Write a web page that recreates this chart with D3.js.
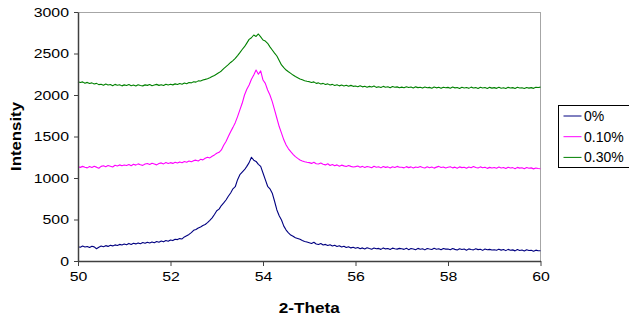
<!DOCTYPE html>
<html>
<head>
<meta charset="utf-8">
<script src="https://cdn.jsdelivr.net/npm/d3@7"></script>
<style>
  body { margin: 0; background: #fff; }
  svg { display: block; font-family: "Liberation Sans", Arial, sans-serif; }
</style>
</head>
<body>
<div id="chart"></div>
<script>
// scan grid: 50.00 .. 60.00 in 0.05 steps
const thetaStart = 50;
const thetaStep = 0.05;

const seriesNames = ['0%', '0.10%', '0.30%'];
const seriesColors = ['#000080', '#ff00ff', '#008000'];

const yTicks = [0, 500, 1000, 1500, 2000, 2500, 3000];
const xTicks = [50, 52, 54, 56, 58, 60];

const intensity0 = [
  172, 165, 180, 168, 175, 162, 178, 170, 148, 166, 180, 172, 185, 176, 190, 182, 194, 186, 200, 192,
  205, 196, 212, 200, 214, 206, 218, 209, 222, 213, 226, 218, 230, 221, 234, 226, 240, 231, 246, 238,
  253, 246, 262, 258, 270, 266, 290, 305, 320, 342, 370, 380, 398, 410, 428, 440, 462, 490, 520, 560,
  606, 625, 668, 700, 735, 780, 820, 870, 895, 980, 1040, 1070, 1100, 1140, 1185, 1250, 1215, 1200, 1165, 1140,
  1060, 980, 900, 870, 817, 720, 615, 545, 494, 420, 373, 340, 313, 298, 280, 272, 261, 248, 236, 228,
  220, 212, 226, 205, 198, 210, 193, 200, 186, 196, 181, 190, 175, 184, 168, 178, 162, 172, 158, 166,
  153, 162, 148, 158, 145, 160, 150, 142, 156, 147, 152, 140, 158, 146, 150, 138, 155, 148, 143, 152,
  148, 140, 154, 137, 150, 145, 136, 152, 142, 148, 134, 150, 144, 139, 153, 141, 147, 135, 150, 143,
  145, 136, 150, 140, 133, 147, 138, 144, 130, 146, 139, 134, 148, 137, 142, 128, 144, 135, 140, 132,
  136, 129, 143, 131, 138, 125, 140, 130, 134, 122, 138, 127, 132, 120, 135, 126, 129, 118, 131, 124,
  124
];

const intensity010 = [
  1135, 1128, 1140, 1130, 1122, 1138, 1127, 1142, 1131, 1118, 1140, 1148, 1135, 1150, 1141, 1132, 1153, 1144, 1158, 1147,
  1157, 1150, 1162, 1148, 1165, 1155, 1170, 1160, 1152, 1168, 1175, 1163, 1178, 1168, 1158, 1174, 1182, 1170, 1186, 1175,
  1185, 1176, 1190, 1180, 1194, 1184, 1198, 1190, 1204, 1195, 1209, 1215, 1205, 1225, 1218, 1238, 1250, 1242, 1262, 1278,
  1298, 1310, 1338, 1395, 1440, 1500, 1558, 1610, 1667, 1740, 1820, 1900, 2000, 2070, 2120, 2190, 2240, 2300, 2250, 2290,
  2180, 2140, 2060, 2000, 1920, 1820, 1720, 1620, 1540, 1460, 1398, 1352, 1317, 1285, 1257, 1236, 1217, 1205, 1196, 1190,
  1185, 1176, 1190, 1172, 1169, 1180, 1165, 1158, 1172, 1150, 1162, 1148, 1158, 1142, 1155, 1146, 1138, 1150, 1140, 1132,
  1137, 1145, 1130, 1140, 1126, 1138, 1133, 1124, 1141, 1130, 1135, 1122, 1139, 1128, 1134, 1120, 1136, 1127, 1140, 1129,
  1130, 1122, 1137, 1125, 1134, 1120, 1132, 1126, 1138, 1127, 1121, 1135, 1124, 1133, 1119, 1131, 1140, 1126, 1132, 1121,
  1129, 1136, 1122, 1131, 1118, 1134, 1125, 1130, 1117, 1133, 1124, 1139, 1126, 1120, 1134, 1123, 1130, 1116, 1128, 1121,
  1127, 1118, 1132, 1120, 1126, 1114, 1130, 1121, 1125, 1112, 1128, 1119, 1124, 1111, 1126, 1117, 1122, 1110, 1120, 1114,
  1112
];

const intensity030 = [
  2160, 2150, 2158, 2142, 2152, 2138, 2146, 2132, 2140, 2125, 2130, 2118, 2132, 2120, 2126, 2112, 2128, 2118, 2124, 2110,
  2122, 2114, 2126, 2112, 2120, 2108, 2124, 2115, 2110, 2122, 2116, 2126, 2112, 2120, 2128, 2116, 2124, 2114, 2130, 2120,
  2129, 2122, 2134, 2126, 2138, 2130, 2144, 2136, 2150, 2146, 2160, 2155, 2170, 2168, 2180, 2188, 2197, 2208, 2222, 2236,
  2253, 2270, 2290, 2318, 2341, 2365, 2392, 2415, 2442, 2475, 2510, 2548, 2582, 2625, 2670, 2690, 2723, 2705, 2735, 2700,
  2663, 2650, 2623, 2580, 2542, 2505, 2470, 2415, 2362, 2330, 2301, 2280, 2261, 2240, 2222, 2208, 2193, 2184, 2172, 2166,
  2161, 2150, 2158, 2140, 2146, 2132, 2140, 2126, 2134, 2120, 2128, 2115, 2124, 2110, 2120, 2108, 2118, 2105, 2116, 2104,
  2108, 2100, 2112, 2098, 2106, 2094, 2104, 2096, 2108, 2092, 2100, 2090, 2104, 2094, 2100, 2088, 2102, 2093, 2098, 2087,
  2095, 2088, 2100, 2090, 2097, 2084, 2098, 2089, 2094, 2083, 2096, 2088, 2092, 2082, 2097, 2086, 2093, 2080, 2094, 2087,
  2092, 2082, 2096, 2086, 2090, 2079, 2094, 2085, 2091, 2080, 2095, 2084, 2089, 2078, 2093, 2085, 2090, 2079, 2092, 2083,
  2089, 2080, 2094, 2082, 2088, 2078, 2092, 2084, 2089, 2079, 2093, 2085, 2088, 2078, 2091, 2083, 2089, 2080, 2094, 2090,
  2095
];

const seriesValues = [intensity0, intensity010, intensity030];

const width = 629, height = 322;
const margin = { top: 12, right: 88.5, bottom: 61, left: 78 };
const innerW = width - margin.left - margin.right;
const innerH = height - margin.top - margin.bottom;
const stretch = 1.22; // labels in the picture are drawn wide

const svg = d3.select('#chart').append('svg')
  .attr('width', width)
  .attr('height', height);

const g = svg.append('g').attr('transform', `translate(${margin.left},${margin.top})`);

const x = d3.scaleLinear().domain([50, 60]).range([0, innerW]);
const y = d3.scaleLinear().domain([0, 3000]).range([innerH, 0]);

// plot frame (top + right edges)
g.append('rect')
  .attr('x', 0).attr('y', 0)
  .attr('width', innerW).attr('height', innerH)
  .attr('fill', '#fff')
  .attr('stroke', '#a6a6a6')
  .attr('stroke-width', 1)
  .attr('shape-rendering', 'crispEdges');

const line = d3.line()
  .x((d, i) => x(thetaStart + i * thetaStep))
  .y(d => y(d));

g.selectAll('.series')
  .data(seriesValues)
  .enter()
  .append('path')
  .attr('class', 'series')
  .attr('fill', 'none')
  .attr('stroke', (d, i) => seriesColors[i])
  .attr('stroke-width', 1.1)
  .attr('stroke-linejoin', 'round')
  .attr('d', line);

const xAxis = g.append('g')
  .attr('transform', `translate(0,${innerH})`)
  .call(d3.axisBottom(x).tickValues(xTicks).tickFormat(d3.format('d')).tickSize(5).tickSizeOuter(0));

const yAxis = g.append('g')
  .call(d3.axisLeft(y).tickValues(yTicks).tickFormat(d3.format('d')).tickSize(4).tickSizeOuter(0));

[xAxis, yAxis].forEach(ax => {
  ax.select('.domain').attr('stroke', '#404040').attr('stroke-width', 1.5);
  ax.selectAll('.tick line').attr('stroke', '#404040');
  ax.selectAll('text').attr('font-size', 13).attr('font-family', '"Liberation Sans", Arial, sans-serif').attr('fill', '#000');
});

xAxis.selectAll('text')
  .attr('y', 11)
  .attr('transform', `scale(${stretch},1)`);

yAxis.selectAll('text')
  .attr('x', -9 / stretch)
  .attr('transform', `scale(${stretch},1)`);

// axis titles
svg.append('text')
  .attr('x', margin.left + innerW / 2)
  .attr('y', 313)
  .attr('text-anchor', 'middle')
  .attr('font-size', 14)
  .attr('font-weight', 'bold')
  .attr('textLength', 61)
  .attr('lengthAdjust', 'spacingAndGlyphs')
  .text('2-Theta');

svg.append('text')
  .attr('transform', `translate(21,${margin.top + innerH / 2}) rotate(-90)`)
  .attr('text-anchor', 'middle')
  .attr('font-size', 14)
  .attr('font-weight', 'bold')
  .attr('textLength', 69)
  .attr('lengthAdjust', 'spacingAndGlyphs')
  .text('Intensity');

// legend
const legend = svg.append('g').attr('transform', 'translate(558.5,105.5)');

legend.append('rect')
  .attr('width', 75).attr('height', 62)
  .attr('fill', '#fff')
  .attr('stroke', '#000')
  .attr('stroke-width', 1);

const item = legend.selectAll('.item')
  .data(seriesNames)
  .enter()
  .append('g')
  .attr('transform', (d, i) => `translate(0,${10.5 + i * 20.7})`);

item.append('line')
  .attr('x1', 5).attr('x2', 23)
  .attr('stroke', (d, i) => seriesColors[i])
  .attr('stroke-width', 1);

item.append('text')
  .attr('x', 25.5)
  .attr('dy', '0.36em')
  .attr('font-size', 14)
  .text(d => d);
</script>
</body>
</html>
